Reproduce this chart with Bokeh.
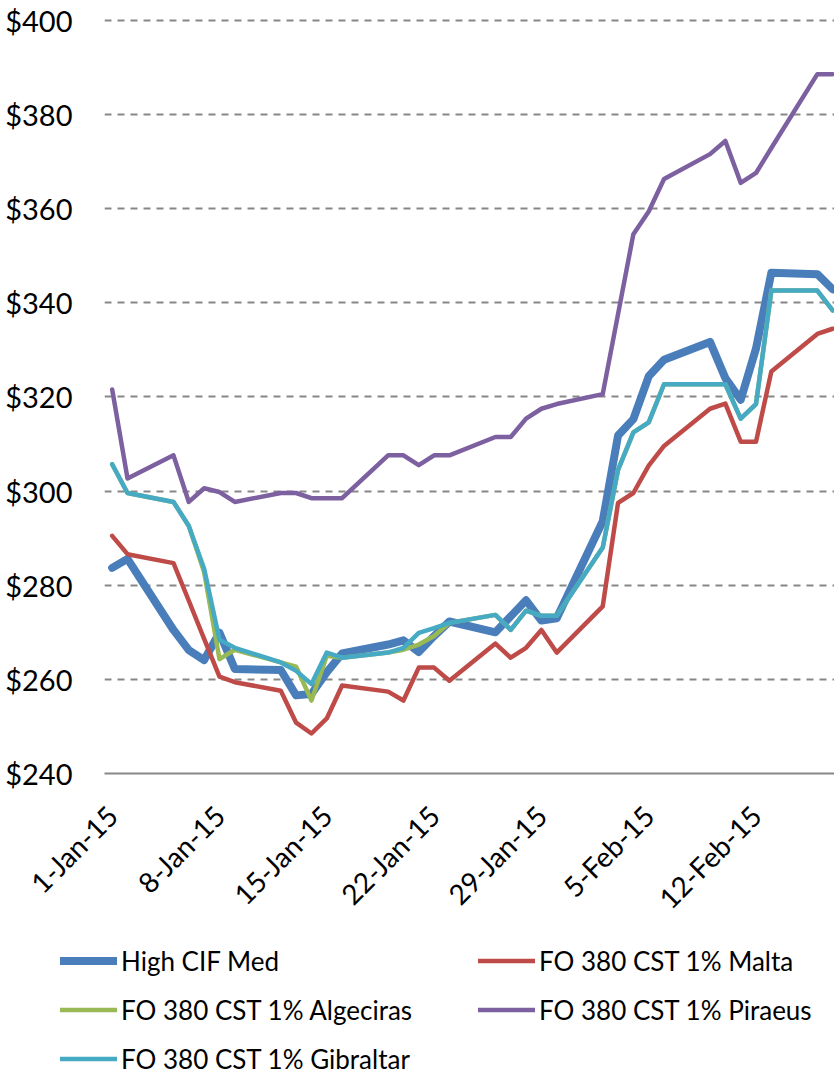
import math
import pandas as pd
from bokeh.plotting import figure
from bokeh.models import (Range1d, FixedTicker, NumeralTickFormatter, Legend, LegendItem,
                          ColumnDataSource)
from bokeh.embed import file_html
from bokeh.resources import INLINE

# ---------------- data ----------------
dates = ["2015-01-01", "2015-01-02", "2015-01-05", "2015-01-06", "2015-01-07", "2015-01-08",
         "2015-01-09", "2015-01-12", "2015-01-13", "2015-01-14", "2015-01-15", "2015-01-16",
         "2015-01-19", "2015-01-20", "2015-01-21", "2015-01-22", "2015-01-23", "2015-01-26",
         "2015-01-27", "2015-01-28", "2015-01-29", "2015-01-30", "2015-02-02", "2015-02-03",
         "2015-02-04", "2015-02-05", "2015-02-06", "2015-02-09", "2015-02-10", "2015-02-11",
         "2015-02-12", "2015-02-13", "2015-02-16", "2015-02-17"]

high_cif_med = [283.7, 285.6, 270.5, 266.2, 264.1, 269.9, 262.2, 262.0, 256.6, 256.9, 261.5, 265.5,
                267.4, 268.3, 265.8, 269.2, 272.3, 270.0, 273.4, 276.8, 272.5, 273.0, 293.6, 311.8,
                315.3, 324.4, 327.9, 331.7, 324.0, 319.4, 330.3, 346.4, 346.1, 342.9]
malta = [290.5, 286.6, 284.7, 276.7, 268.6, 260.6, 259.4, 257.6, 250.8, 248.5, 251.7, 258.7,
         257.4, 255.5, 262.5, 262.5, 259.7, 267.6, 264.6, 266.7, 270.5, 265.7, 275.5, 297.5,
         299.6, 305.4, 309.6, 317.5, 318.6, 310.5, 310.5, 325.4, 333.4, 334.5]
algeciras = [305.7, 299.6, 297.7, 292.6, 282.8, 264.3, 266.3, 263.6, 262.7, 255.5, 265.0, 264.6,
             265.7, 266.3, 267.4, 269.2, 272.0, 273.7, 270.5, 274.6, 273.5, 273.5, 288.0, 304.5,
             312.5, 314.6, 322.7, 322.7, 322.7, 315.4, 318.5, 342.6, 342.6, 338.4]
piraeus = [321.6, 302.7, 307.6, 297.7, 300.6, 299.8, 297.7, 299.6, 299.6, 298.5, 298.5, 298.5,
           307.6, 307.6, 305.5, 307.6, 307.6, 311.5, 311.5, 315.4, 317.5, 318.5, 320.6, 337.6,
           354.6, 359.4, 366.3, 371.6, 374.4, 365.5, 367.6, 372.9, 388.6, 388.6]
gibraltar = [305.7, 299.6, 297.7, 292.6, 283.5, 268.4, 266.7, 263.6, 261.8, 259.0, 265.7, 264.6,
             265.7, 266.7, 269.9, 270.9, 272.0, 273.7, 270.5, 274.6, 273.5, 273.5, 288.0, 304.5,
             312.5, 314.6, 322.7, 322.7, 322.7, 315.4, 318.5, 342.6, 342.6, 338.4]

series_names = ["High CIF Med", "FO 380 CST 1% Malta", "FO 380 CST 1% Algeciras",
                "FO 380 CST 1% Piraeus", "FO 380 CST 1% Gibraltar"]
series_cols = ["high", "malta", "alg", "pir", "gib"]
series_colors = ["#4A7EBB", "#BE4B48", "#98B954", "#7D60A0", "#46AAC5"]
series_widths = [8, 4.5, 4.5, 4.5, 4.5]
tick_labels = ["1-Jan-15", "8-Jan-15", "15-Jan-15", "22-Jan-15", "29-Jan-15", "5-Feb-15", "12-Feb-15"]
y_ticks = [240, 260, 280, 300, 320, 340, 360, 380, 400]

# ---------------- helpers ----------------
origin = pd.Timestamp("2015-01-01")
day = [(pd.Timestamp(d) - origin).days for d in dates]
tick_days = [(pd.to_datetime(t, format="%d-%b-%y") - origin).days for t in tick_labels]

src = ColumnDataSource(dict(day=day, high=high_cif_med, malta=malta, alg=algeciras,
                            pir=piraeus, gib=gibraltar))

FONT = "Lato"

# ---------------- main chart ----------------
p = figure(width=834, height=930, output_backend="svg", toolbar_location=None,
           x_range=Range1d(-0.5, 47.12), y_range=Range1d(240, 400.42),
           min_border_left=104, min_border_right=0, min_border_top=18, min_border_bottom=148)
p.outline_line_color = None
p.background_fill_color = "white"
p.border_fill_color = "white"

p.xgrid.grid_line_color = None
p.ygrid.grid_line_color = "#878787"
p.ygrid.grid_line_width = 2
p.ygrid.grid_line_dash = "7 6"

p.yaxis.ticker = FixedTicker(ticks=y_ticks)
p.yaxis.formatter = NumeralTickFormatter(format="$0")
p.yaxis.axis_line_color = None
p.yaxis.major_tick_line_color = None
p.yaxis.minor_tick_line_color = None
p.yaxis.major_label_text_font = FONT
p.yaxis.major_label_text_font_size = "29px"
p.yaxis.major_label_text_color = "black"
p.yaxis.major_label_standoff = 26

p.xaxis.ticker = FixedTicker(ticks=tick_days)
p.xaxis.major_label_overrides = {t: lab for t, lab in zip(tick_days, tick_labels)}
p.xaxis.axis_line_color = "#878787"
p.xaxis.axis_line_width = 2
p.xaxis.major_tick_line_color = None
p.xaxis.minor_tick_line_color = None
p.xaxis.major_label_orientation = math.pi / 4
p.xaxis.major_label_text_font = FONT
p.xaxis.major_label_text_font_size = "28px"
p.xaxis.major_label_text_color = "black"
p.xaxis.major_label_standoff = 31

for col, color, w in zip(series_cols, series_colors, series_widths):
    p.line("day", col, source=src, line_color=color, line_width=w,
           line_join="round", line_cap="round")

# ---------------- legend strip (separate root, same series styles) ----------------
p2 = figure(width=834, height=148, output_backend="svg", toolbar_location=None,
            x_range=Range1d(0, 1), y_range=Range1d(0, 1),
            x_axis_location=None, y_axis_location=None,
            min_border_left=0, min_border_right=0, min_border_top=0, min_border_bottom=0)
p2.outline_line_color = None
p2.grid.visible = False
p2.background_fill_color = "white"
p2.border_fill_color = "white"

items = []
for name, col, color, w in zip(series_names, series_cols, series_colors, series_widths):
    # same series; they fall outside this strip's ranges, only the legend swatch shows
    r = p2.line("day", col, source=src, line_color=color, line_width=w, line_cap="round")
    items.append(LegendItem(label=name, renderers=[r]))

legend = Legend(items=items, orientation="horizontal", ncols=2,
                location=(60, -5),
                glyph_width=57, glyph_height=49, label_height=49, label_width=357,
                label_standoff=4, spacing=0, padding=0, margin=0,
                border_line_color=None, background_fill_alpha=0,
                label_text_font=FONT, label_text_font_size="26px", label_text_color="black")
p2.add_layout(legend, "center")

open("out.html", "w").write(file_html([p, p2], INLINE))
